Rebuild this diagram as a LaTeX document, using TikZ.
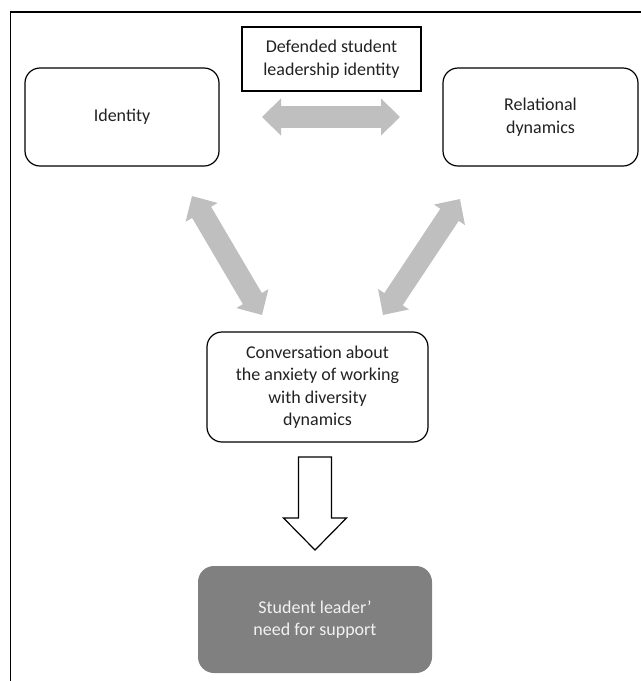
\documentclass[tikz,border=0pt]{standalone}
\usepackage{fontspec}
\setmainfont{Carlito}
\usetikzlibrary{arrows.meta,calc}
\definecolor{txt}{RGB}{34,34,34}
\definecolor{arrowgray}{RGB}{191,191,191}
\definecolor{darkfill}{RGB}{128,128,128}
\definecolor{lighttxt}{RGB}{242,242,242}
\tikzset{
  box/.style={draw=black, line width=1.2pt, rounded corners=15pt, fill=white,
    align=center, text=txt, inner sep=0pt,
    font=\fontsize{18}{22.5}\selectfont},
  sharpbox/.style={draw=black, line width=1.2pt, fill=white,
    align=center, text=txt, inner sep=0pt,
    font=\fontsize{18}{22.5}\selectfont},
  darkbox/.style={fill=darkfill, rounded corners=16pt,
    align=center, text=lighttxt, inner sep=0pt,
    font=\fontsize{18}{22.5}\selectfont},
  grayarrow/.style={draw=arrowgray, line width=22pt,
    {Triangle[width=36pt,length=19pt]}-{Triangle[width=36pt,length=19pt]}},
  blockarrow/.style={draw=black, line width=1.2pt, fill=white, line join=miter},
  framestyle/.style={draw=black, line width=1.1pt}
}
\begin{document}
\begin{tikzpicture}[x=1pt,y=-1pt]
\useasboundingbox (0,0) rectangle (641,681);
% outer frame (left and top only visible)
\draw[framestyle] (10.5,681) -- (10.5,12) -- (641,12);

% nodes
\node[box, minimum width=194pt, minimum height=98pt] (identity) at (122,117) {Identity};
\node[sharpbox, minimum width=179pt, minimum height=64pt] (defended) at (331.5,59) {Defended student\\leadership identity};
\node[box, minimum width=195pt, minimum height=98pt] (relational) at (540.5,117) {Relational\\dynamics};
\node[box, minimum width=221pt, minimum height=110pt] (conv) at (317.5,387) {Conversation about\\the anxiety of working\\with diversity\\dynamics};
\node[darkbox, minimum width=234pt, minimum height=107pt] (student) at (315,619.5) {Student leader’\\need for support};

% arrow end coordinates
\coordinate (h1) at (262,117);
\coordinate (h2) at (400,117);
\coordinate (l1) at (192,196);
\coordinate (l2) at (262,315);
\coordinate (r1) at (460,199);
\coordinate (r2) at (383,315);

% gray double arrows
\draw[grayarrow] (h1) -- (h2);
\draw[grayarrow] (l1) -- (l2);
\draw[grayarrow] (r1) -- (r2);

% white block arrow from conversation to student
\coordinate (dtop) at (315,457);
\coordinate (dtip) at (315,550);
\draw[blockarrow] ($(dtop)+(-16.5,0)$) -- ($(dtop)+(16.5,0)$) -- ($(dtop)+(16.5,61)$)
  -- ($(dtop)+(31.5,61)$) -- (dtip) -- ($(dtop)+(-31.5,61)$) -- ($(dtop)+(-16.5,61)$) -- cycle;
\end{tikzpicture}
\end{document}
